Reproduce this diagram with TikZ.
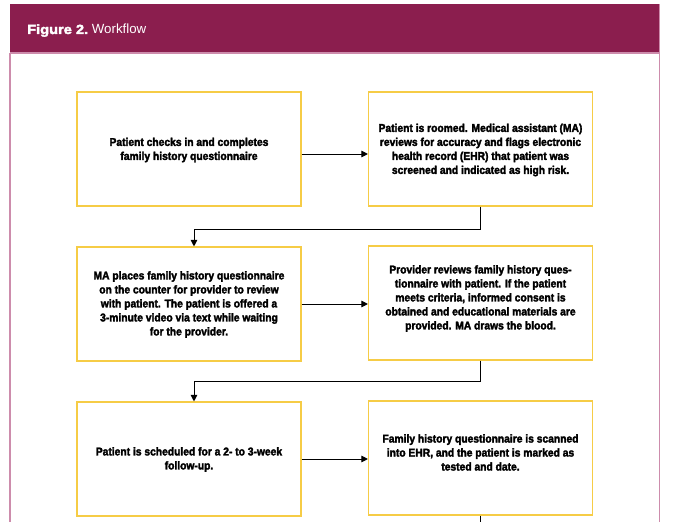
\documentclass[tikz,border=0pt]{standalone}
\usepackage{fontspec}
\setmainfont{Liberation Sans}
\newfontfamily\boxfont[FakeStretch=0.91,FakeBold=2.6]{Liberation Sans Bold}
\newfontfamily\headbold[FakeStretch=1.1,FakeBold=2.6]{Liberation Sans Bold}
\newfontfamily\headreg{Liberation Sans}
\usetikzlibrary{arrows.meta,calc}
\definecolor{maroon}{RGB}{139,30,78}
\definecolor{framepink}{RGB}{205,140,172}
\definecolor{boxgold}{RGB}{246,204,70}
\tikzset{
  stepbox/.style={draw=boxgold, line width=1.1pt, minimum width=224pt, minimum height=114pt, inner sep=0pt, fill=white},
  steptext/.style={align=center, inner sep=0pt, font=\boxfont\fontsize{11.3pt}{14pt}\selectfont},
  arr/.style={draw=black, line width=1pt, -{Triangle[length=6.5pt,width=6.5pt]}},
  plainline/.style={draw=black, line width=1pt}
}
\begin{document}
\begin{tikzpicture}[x=1pt,y=-1pt]
\useasboundingbox (0,0) rectangle (675,522);
\fill[white] (0,0) rectangle (675,522);
% frame
\fill[maroon] (10,4) rectangle (659.5,53);
\draw[framepink, line width=1.3pt] (10,53) -- (659.5,53);
\draw[framepink, line width=1.2pt] (10,53) -- (10,523);
\draw[framepink, line width=1.2pt] (659.5,4) -- (659.5,523);
\node[anchor=base west, inner sep=0pt, text=white] (title) at (27,34)
  {{\headbold\fontsize{13.3pt}{15pt}\selectfont Figure 2.} {\headreg\fontsize{13.3pt}{15pt}\selectfont Workflow}};
% boxes
\node[stepbox] (b1) at (189,149) {};
\node[stepbox] (b2) at (480.5,149) {};
\node[stepbox] (b3) at (189,304) {};
\node[stepbox] (b4) at (480.5,303) {};
\node[stepbox] (b5) at (189,459) {};
\node[stepbox] (b6) at (480.5,458) {};
% texts
\node[steptext] (t1) at (189,150) {Patient checks in and completes\\family history questionnaire};
\node[steptext] (t2) at (480.5,150) {Patient is roomed. Medical assistant (MA)\\reviews for accuracy and flags electronic\\health record (EHR) that patient was\\screened and indicated as high risk.};
\node[steptext] (t3) at (189,304.5) {MA places family history questionnaire\\on the counter for provider to review\\with patient. The patient is offered a\\3-minute video via text while waiting\\for the provider.};
\node[steptext] (t4) at (480.5,298.5) {Provider reviews family history ques-\\tionnaire with patient. If the patient\\meets criteria, informed consent is\\obtained and educational materials are\\provided. MA draws the blood.};
\node[steptext] (t5) at (189,459.5) {Patient is scheduled for a 2- to 3-week\\follow-up.};
\node[steptext] (t6) at (480.5,452.5) {Family history questionnaire is scanned\\into EHR, and the patient is marked as\\tested and date.};
% connectors
\draw[arr] ([yshift=-5pt]b1.east) -- ([yshift=-5pt]b1.east -| b2.west);
\draw[arr] (b3.east) -- (b3.east -| b4.west);
\draw[arr] (b5.east) -- (b5.east -| b6.west);
\draw[arr] (b2.south) -- ++(0,22.5) -| ([xshift=5pt]b3.north);
\draw[arr] (b4.south) -- ++(0,21) -| ([xshift=5pt]b5.north);
\coordinate (tail) at (480.5,523);
\draw[plainline] (b6.south) -- (tail);
\end{tikzpicture}
\end{document}
